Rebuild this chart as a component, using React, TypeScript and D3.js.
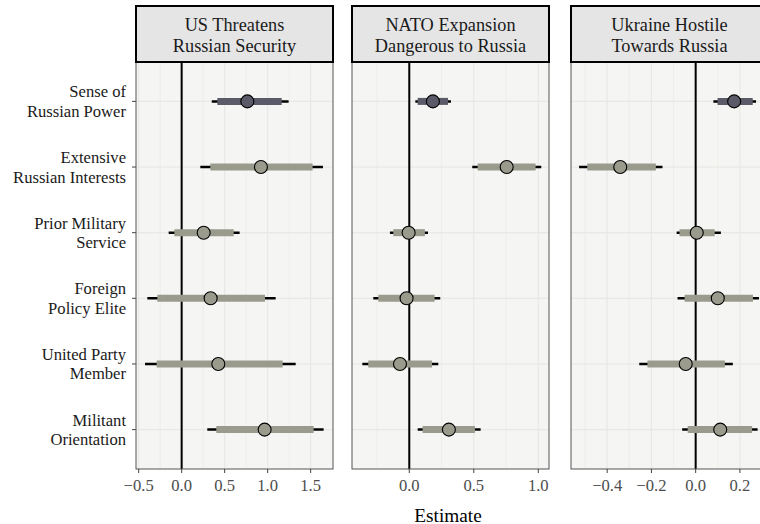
import React from "react";
import * as d3 from "d3";

const categories = [
  ["Sense of", "Russian Power"],
  ["Extensive", "Russian Interests"],
  ["Prior Military", "Service"],
  ["Foreign", "Policy Elite"],
  ["United Party", "Member"],
  ["Militant", "Orientation"],
];
const panelTitles = [
  ["US Threatens", "Russian Security"],
  ["NATO Expansion", "Dangerous to Russia"],
  ["Ukraine Hostile", "Towards Russia"],
];
// [outerLo, innerLo, estimate, innerHi, outerHi] per category
const usThreat = [
  [0.35, 0.415, 0.764, 1.163, 1.244],
  [0.217, 0.333, 0.922, 1.523, 1.643],
  [-0.151, -0.085, 0.256, 0.605, 0.674],
  [-0.399, -0.283, 0.337, 0.969, 1.093],
  [-0.426, -0.291, 0.426, 1.174, 1.326],
  [0.298, 0.403, 0.965, 1.535, 1.651],
];
const natoDanger = [
  [0.047, 0.065, 0.183, 0.3, 0.323],
  [0.488, 0.53, 0.755, 0.979, 1.023],
  [-0.15, -0.124, -0.005, 0.121, 0.145],
  [-0.279, -0.24, -0.021, 0.196, 0.24],
  [-0.364, -0.318, -0.072, 0.176, 0.225],
  [0.065, 0.103, 0.307, 0.509, 0.553],
];
const ukraineHostile = [
  [0.08, 0.099, 0.174, 0.258, 0.273],
  [-0.527, -0.49, -0.341, -0.18, -0.15],
  [-0.086, -0.073, 0.005, 0.086, 0.114],
  [-0.082, -0.05, 0.1, 0.259, 0.286],
  [-0.255, -0.218, -0.045, 0.132, 0.168],
  [-0.061, -0.036, 0.111, 0.255, 0.28],
];
const panelData = [usThreat, natoDanger, ukraineHostile];
const panelDomains = [
  [-0.531, 1.76],
  [-0.444, 1.083],
  [-0.5636, 0.327],
];
const majorTicks = [
  [-0.5, 0, 0.5, 1, 1.5],
  [0, 0.5, 1],
  [-0.4, -0.2, 0, 0.2],
];
const minorTicks = [
  [-0.25, 0.25, 0.75, 1.25],
  [-0.25, 0.25, 0.75],
  [-0.5, -0.3, -0.1, 0.1, 0.3],
];

const W = 760;
const H = 524;
const panelLefts = [136, 352, 571];
const panelW = 197;
const stripTop = 6;
const stripBottom = 62;
const panelBottom = 469;
const serif = "'Liberation Serif', 'DejaVu Serif', serif";

const fmt = (v: number) => {
  const s = Math.abs(v).toFixed(1);
  return v < -1e-9 ? "\u2212" + s : s;
};

export default function App() {
  const y = d3
    .scalePoint<number>()
    .domain(d3.range(categories.length))
    .range([stripBottom, panelBottom])
    .padding(0.6);

  return (
    <svg
      width={W}
      height={H}
      style={{ position: "absolute", left: 0, top: 0, background: "#fff" }}
      fontFamily={serif}
    >
      {/* y labels */}
      {categories.map((lines, i) => (
        <g key={"yl" + i}>
          <line x1={132} x2={136} y1={y(i)} y2={y(i)} stroke="#444" strokeWidth={1} />
          {lines.map((t, j) => (
            <text
              key={j}
              x={126}
              y={(y(i) as number) - 9.5 + j * 19.5}
              textAnchor="end"
              dominantBaseline="central"
              fontSize={16.6}
              fill="#1a1a1a"
            >
              {t}
            </text>
          ))}
        </g>
      ))}
      {panelData.map((rows, p) => {
        const x0 = panelLefts[p];
        const x = d3.scaleLinear().domain(panelDomains[p]).range([x0, x0 + panelW]);
        return (
          <g key={"p" + p}>
            <rect x={x0} y={stripBottom} width={panelW} height={panelBottom - stripBottom} fill="#f5f5f3" />
            {minorTicks[p].map((t) => (
              <line key={"mi" + t} x1={x(t)} x2={x(t)} y1={stripBottom} y2={panelBottom} stroke="#ebebe9" strokeWidth={0.8} />
            ))}
            {majorTicks[p].map((t) => (
              <line key={"ma" + t} x1={x(t)} x2={x(t)} y1={stripBottom} y2={panelBottom} stroke="#e8e8e6" strokeWidth={1.2} />
            ))}
            {categories.map((_, i) => (
              <line key={"hg" + i} x1={x0} x2={x0 + panelW} y1={y(i)} y2={y(i)} stroke="#e8e8e6" strokeWidth={1.2} />
            ))}
            <line x1={x(0)} x2={x(0)} y1={stripBottom} y2={panelBottom} stroke="#000" strokeWidth={2} />
            {rows.map((r, i) => {
              const cy = y(i) as number;
              const col = i === 0 ? "#5a5a68" : "#9a9b8d";
              return (
                <g key={"r" + i}>
                  <line x1={x(r[0])} x2={x(r[4])} y1={cy} y2={cy} stroke="#000" strokeWidth={2.5} />
                  <line x1={x(r[1])} x2={x(r[3])} y1={cy} y2={cy} stroke={col} strokeWidth={7} />
                  <circle cx={x(r[2])} cy={cy} r={6.5} fill={col} stroke="#000" strokeWidth={1.1} />
                </g>
              );
            })}
            <rect x={x0} y={stripBottom} width={panelW} height={panelBottom - stripBottom} fill="none" stroke="#555" strokeWidth={1} />
            {/* strip */}
            <rect x={x0} y={stripTop} width={panelW} height={stripBottom - stripTop} fill="#e5e5e5" stroke="#000" strokeWidth={2} />
            {panelTitles[p].map((t, j) => (
              <text
                key={"st" + j}
                x={x0 + panelW / 2}
                y={24.5 + j * 21}
                textAnchor="middle"
                dominantBaseline="central"
                fontSize={18.3}
                fill="#1a1a1a"
              >
                {t}
              </text>
            ))}
            {/* x axis ticks */}
            {majorTicks[p].map((t) => (
              <g key={"xt" + t}>
                <line x1={x(t)} x2={x(t)} y1={panelBottom} y2={panelBottom + 4} stroke="#444" strokeWidth={1} />
                <text x={x(t)} y={485} textAnchor="middle" dominantBaseline="central" fontSize={16.6} fill="#4d4d4d">
                  {fmt(t)}
                </text>
              </g>
            ))}
          </g>
        );
      })}
      <text x={448} y={515} textAnchor="middle" dominantBaseline="central" fontSize={19.3} fill="#000">
        Estimate
      </text>
    </svg>
  );
}
